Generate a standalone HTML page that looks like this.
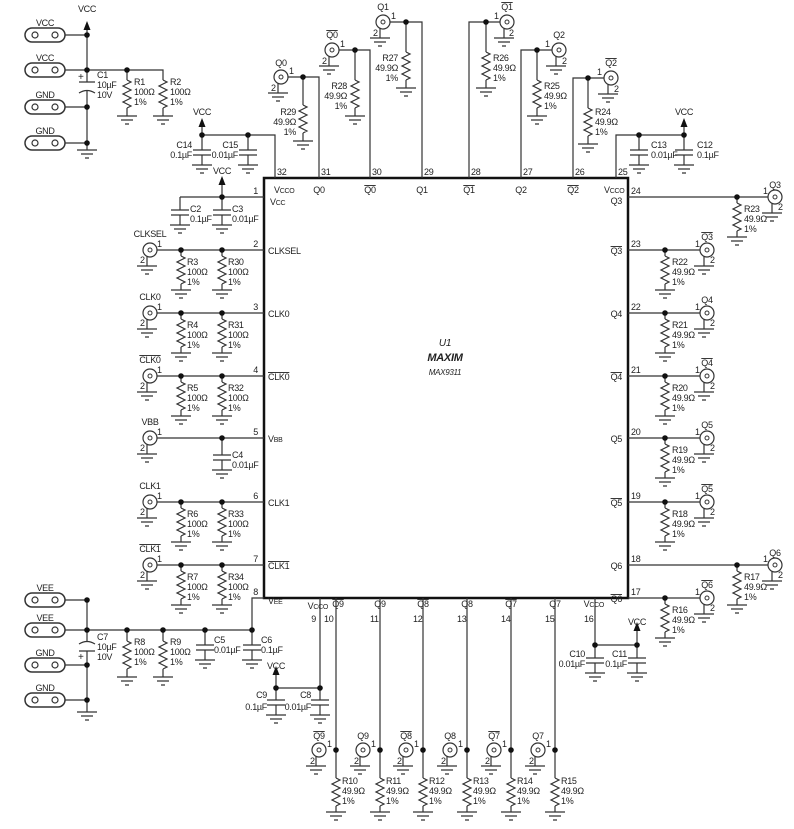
<!DOCTYPE html>
<html><head><meta charset="utf-8"><style>
html,body{margin:0;padding:0;background:#fff}
svg{display:block}
text{font-family:"Liberation Sans",sans-serif;font-size:9px;fill:#222;letter-spacing:-0.3px}
.w{fill:none;stroke:#333;stroke-width:1.2}
.ov{text-decoration:overline}
.m{text-anchor:middle}.e{text-anchor:end}
</style></head><body>
<svg width="794" height="829" viewBox="0 0 794 829" xmlns="http://www.w3.org/2000/svg">
<defs>
<path id="z" class="w" d="M0 0 l4 2 -8 4 8 4 -8 4 8 4 -8 4 8 4 -4 2"/>
<path id="g" class="w" d="M-10 0 h20 M-6 4 h12 M-2 8 h4"/>
<path id="c" class="w" d="M-9 0 h18 M-9 5 h18"/>
<circle id="d" r="2.8" fill="#111"/>
<g id="x"><circle r="7" fill="#fff" stroke="#333" stroke-width="1.2"/><circle r="2" fill="none" stroke="#333"/><path class="w" d="M-3 6.5 V16"/><use href="#g" x="-3" y="16"/></g>
<g id="a"><polygon points="0,-9 -3.5,0 3.5,0" fill="#111"/></g>
<g id="t"><rect x="-20" y="-7" width="40" height="14" rx="7" fill="#fff" stroke="#333" stroke-width="1.5"/><circle cx="-10" r="3" fill="none" stroke="#333" stroke-width="1.2"/><circle cx="10" r="3" fill="none" stroke="#333" stroke-width="1.2"/></g>
</defs>

<!-- IC -->
<rect x="264" y="178" width="364" height="420" fill="none" stroke="#111" stroke-width="2.5"/>
<text x="445" y="346" class="m" style="font-style:italic;font-size:10px">U1</text>
<text x="445" y="361" class="m" style="font-style:italic;font-weight:bold;font-size:11px">MAXIM</text>
<text x="445" y="375" class="m" style="font-style:italic;font-size:8px">MAX9311</text>

<!-- top-left power -->
<use href="#t" x="45" y="35"/><use href="#t" x="45" y="70"/><use href="#t" x="45" y="107"/><use href="#t" x="45" y="143"/>
<text x="45" y="26" class="m">VCC</text><text x="45" y="61" class="m">VCC</text><text x="45" y="98" class="m">GND</text><text x="45" y="134" class="m">GND</text>
<path class="w" d="M65 35 H87 M65 70 H87 M65 107 H87 M65 143 H87 M87 30 V82 M87 91 V150 M87 70 H163 V80 M127 70 V80 M127 108 V116 M163 108 V116"/>
<path class="w" d="M79 82 h16 M79 93 q8 -5 16 0"/>
<text x="78" y="80" style="font-size:10px">+</text>
<use href="#a" x="87" y="30"/><text x="87" y="12" class="m">VCC</text>
<use href="#d" x="87" y="35"/><use href="#d" x="87" y="70"/><use href="#d" x="87" y="107"/><use href="#d" x="87" y="143"/><use href="#d" x="127" y="70"/>
<use href="#g" x="87" y="150"/>
<text x="97" y="78">C1</text><text x="97" y="88">10µF</text><text x="97" y="98">10V</text>
<use href="#z" x="127" y="80"/><use href="#g" x="127" y="116"/><use href="#z" x="163" y="80"/><use href="#g" x="163" y="116"/>
<text x="134" y="85">R1</text><text x="134" y="95">100Ω</text><text x="134" y="105">1%</text>
<text x="170" y="85">R2</text><text x="170" y="95">100Ω</text><text x="170" y="105">1%</text>

<!-- C14 C15 -->
<path class="w" d="M202 125 V150 M248 135 V150 M202 135 H275 V178 M202 155 V165 M248 155 V165"/>
<use href="#a" x="202" y="127"/><text x="202" y="115" class="m">VCC</text>
<use href="#d" x="202" y="135"/><use href="#d" x="248" y="135"/>
<use href="#c" x="202" y="150"/><use href="#c" x="248" y="150"/><use href="#g" x="202" y="165"/><use href="#g" x="248" y="165"/>
<text x="192" y="148" class="e">C14</text><text x="192" y="158" class="e">0.1µF</text>
<text x="238" y="148" class="e">C15</text><text x="238" y="158" class="e">0.01µF</text>

<!-- top pins -->
<text x="277" y="175">32</text><text x="321" y="175">31</text><text x="372" y="175">30</text><text x="424" y="175">29</text><text x="471" y="175">28</text><text x="523" y="175">27</text><text x="575" y="175">26</text><text x="618" y="175">25</text>
<text x="274" y="193">V<tspan style="font-size:7px">CCO</tspan></text><text x="319" y="193" class="m">Q0</text><text x="370" y="193" class="m ov">Q0</text><text x="422" y="193" class="m">Q1</text><text x="469" y="193" class="m ov">Q1</text><text x="521" y="193" class="m">Q2</text><text x="573" y="193" class="m ov">Q2</text><text x="604" y="193">V<tspan style="font-size:7px">CCO</tspan></text>

<!-- Q0 -->
<path class="w" d="M288 77 H319 V178 M303 77 V105 M303 133 V141"/>
<use href="#x" x="281" y="77"/><use href="#d" x="303" y="77"/><use href="#z" x="303" y="105"/><use href="#g" x="303" y="141"/>
<text x="281" y="66" class="m">Q0</text><text x="289" y="74">1</text><text x="271" y="91">2</text>
<text x="296" y="115" class="e">R29</text><text x="296" y="125" class="e">49.9Ω</text><text x="296" y="135" class="e">1%</text>
<!-- Q0bar -->
<path class="w" d="M339 50 H370 V178 M355 50 V80 M355 108 V116"/>
<use href="#x" x="332" y="50"/><use href="#d" x="355" y="50"/><use href="#z" x="355" y="80"/><use href="#g" x="355" y="116"/>
<text x="332" y="38" class="m ov">Q0</text><text x="340" y="47">1</text><text x="322" y="64">2</text>
<text x="347" y="89" class="e">R28</text><text x="347" y="99" class="e">49.9Ω</text><text x="347" y="109" class="e">1%</text>
<!-- Q1 -->
<path class="w" d="M390 22 H422 V178 M406 22 V52 M406 80 V88"/>
<use href="#x" x="383" y="22"/><use href="#d" x="406" y="22"/><use href="#z" x="406" y="52"/><use href="#g" x="406" y="88"/>
<text x="383" y="10" class="m">Q1</text><text x="391" y="19">1</text><text x="373" y="36">2</text>
<text x="398" y="61" class="e">R27</text><text x="398" y="71" class="e">49.9Ω</text><text x="398" y="81" class="e">1%</text>
<!-- Q1bar -->
<path class="w" d="M500 22 H469 V178 M486 22 V52 M486 80 V88"/>
<use href="#x" x="507" y="22"/><use href="#d" x="486" y="22"/><use href="#z" x="486" y="52"/><use href="#g" x="486" y="88"/>
<text x="507" y="10" class="m ov">Q1</text><text x="494" y="19">1</text><text x="509" y="36">2</text>
<text x="493" y="61">R26</text><text x="493" y="71">49.9Ω</text><text x="493" y="81">1%</text>
<!-- Q2 -->
<path class="w" d="M552 50 H521 V178 M537 50 V80 M537 108 V116"/>
<use href="#x" x="559" y="50"/><use href="#d" x="537" y="50"/><use href="#z" x="537" y="80"/><use href="#g" x="537" y="116"/>
<text x="559" y="38" class="m">Q2</text><text x="545" y="47">1</text><text x="562" y="64">2</text>
<text x="544" y="89">R25</text><text x="544" y="99">49.9Ω</text><text x="544" y="109">1%</text>
<!-- Q2bar -->
<path class="w" d="M604 78 H573 V178 M588 78 V108 M588 136 V144"/>
<use href="#x" x="611" y="78"/><use href="#d" x="588" y="78"/><use href="#z" x="588" y="108"/><use href="#g" x="588" y="144"/>
<text x="611" y="66" class="m ov">Q2</text><text x="597" y="75">1</text><text x="614" y="92">2</text>
<text x="595" y="115">R24</text><text x="595" y="125">49.9Ω</text><text x="595" y="135">1%</text>
<!-- C13 C12 -->
<path class="w" d="M616 178 V135 H684 M684 125 V150 M639 135 V150 M639 155 V165 M684 155 V165"/>
<use href="#a" x="684" y="127"/><text x="684" y="115" class="m">VCC</text>
<use href="#d" x="639" y="135"/><use href="#d" x="684" y="135"/>
<use href="#c" x="639" y="150"/><use href="#c" x="684" y="150"/><use href="#g" x="639" y="165"/><use href="#g" x="684" y="165"/>
<text x="651" y="148">C13</text><text x="651" y="158">0.01µF</text><text x="697" y="148">C12</text><text x="697" y="158">0.1µF</text>

<!-- left pin 1 -->
<path class="w" d="M180 197 H264 M222 183 V197 M180 197 V210 M222 197 V210 M180 215 V225 M222 215 V225"/>
<use href="#a" x="222" y="185"/><text x="222" y="174" class="m">VCC</text>
<use href="#d" x="222" y="197"/><use href="#c" x="180" y="210"/><use href="#c" x="222" y="210"/><use href="#g" x="180" y="225"/><use href="#g" x="222" y="225"/>
<text x="190" y="212">C2</text><text x="190" y="222">0.1µF</text><text x="232" y="212">C3</text><text x="232" y="222">0.01µF</text>
<text x="258" y="194" class="e">1</text><text x="270" y="205">V<tspan style="font-size:7px">CC</tspan></text>

<!-- left rows -->
<g id="L1">
<path class="w" d="M157 250 H264 M181 250 V256 M222 250 V256 M181 284 V290 M222 284 V290"/>
<use href="#x" x="150" y="250"/><use href="#d" x="181" y="250"/><use href="#d" x="222" y="250"/>
<use href="#z" x="181" y="256"/><use href="#z" x="222" y="256"/><use href="#g" x="181" y="290"/><use href="#g" x="222" y="290"/>
</g>
<use href="#L1" y="63"/><use href="#L1" y="126"/><use href="#L1" y="252"/><use href="#L1" y="315"/>
<text x="150" y="237" class="m">CLKSEL</text><text x="150" y="300" class="m">CLK0</text><text x="150" y="363" class="m ov">CLK0</text><text x="150" y="489" class="m">CLK1</text><text x="150" y="552" class="m ov">CLK1</text>
<text x="157" y="247">1</text><text x="140" y="263">2</text><text x="157" y="310">1</text><text x="140" y="326">2</text><text x="157" y="373">1</text><text x="140" y="389">2</text><text x="157" y="499">1</text><text x="140" y="515">2</text><text x="157" y="562">1</text><text x="140" y="578">2</text>
<text x="187" y="265">R3</text><text x="187" y="275">100Ω</text><text x="187" y="285">1%</text>
<text x="228" y="265">R30</text><text x="228" y="275">100Ω</text><text x="228" y="285">1%</text>
<text x="187" y="328">R4</text><text x="187" y="338">100Ω</text><text x="187" y="348">1%</text>
<text x="228" y="328">R31</text><text x="228" y="338">100Ω</text><text x="228" y="348">1%</text>
<text x="187" y="391">R5</text><text x="187" y="401">100Ω</text><text x="187" y="411">1%</text>
<text x="228" y="391">R32</text><text x="228" y="401">100Ω</text><text x="228" y="411">1%</text>
<text x="187" y="517">R6</text><text x="187" y="527">100Ω</text><text x="187" y="537">1%</text>
<text x="228" y="517">R33</text><text x="228" y="527">100Ω</text><text x="228" y="537">1%</text>
<text x="187" y="580">R7</text><text x="187" y="590">100Ω</text><text x="187" y="600">1%</text>
<text x="228" y="580">R34</text><text x="228" y="590">100Ω</text><text x="228" y="600">1%</text>
<!-- VBB -->
<path class="w" d="M157 438 H264 M222 438 V455 M222 460 V470"/>
<use href="#x" x="150" y="438"/><use href="#d" x="222" y="438"/><use href="#c" x="222" y="455"/><use href="#g" x="222" y="470"/>
<text x="150" y="425" class="m">VBB</text><text x="157" y="435">1</text><text x="140" y="451">2</text>
<text x="232" y="458">C4</text><text x="232" y="468">0.01µF</text>
<!-- left pin numbers/names -->
<text x="258" y="247" class="e">2</text><text x="258" y="310" class="e">3</text><text x="258" y="373" class="e">4</text><text x="258" y="435" class="e">5</text><text x="258" y="499" class="e">6</text><text x="258" y="562" class="e">7</text><text x="258" y="595" class="e">8</text>
<text x="268" y="254">CLKSEL</text><text x="268" y="317">CLK0</text><text x="268" y="380" class="ov">CLK0</text><text x="268" y="442">V<tspan style="font-size:7px">BB</tspan></text><text x="268" y="506">CLK1</text><text x="268" y="569" class="ov">CLK1</text><text x="268" y="604">V<tspan style="font-size:7px">EE</tspan></text>

<!-- right pins -->
<text x="631" y="194">24</text><text x="631" y="247">23</text><text x="631" y="310">22</text><text x="631" y="373">21</text><text x="631" y="435">20</text><text x="631" y="499">19</text><text x="631" y="562">18</text><text x="631" y="595">17</text>
<text x="622" y="204" class="e">Q3</text><text x="622" y="254" class="e ov">Q3</text><text x="622" y="317" class="e">Q4</text><text x="622" y="380" class="e ov">Q4</text><text x="622" y="442" class="e">Q5</text><text x="622" y="506" class="e ov">Q5</text><text x="622" y="569" class="e">Q6</text><text x="622" y="602" class="e ov">Q6</text>
<g id="RR">
<path class="w" d="M628 250 H700 M665 250 V256 M665 284 V290"/>
<use href="#x" x="707" y="250"/><use href="#d" x="665" y="250"/><use href="#z" x="665" y="256"/><use href="#g" x="665" y="290"/>
</g>
<use href="#RR" y="63"/><use href="#RR" y="126"/><use href="#RR" y="188"/><use href="#RR" y="252"/><use href="#RR" y="348"/>
<text x="707" y="240" class="m ov">Q3</text><text x="707" y="303" class="m">Q4</text><text x="707" y="366" class="m ov">Q4</text><text x="707" y="428" class="m">Q5</text><text x="707" y="492" class="m ov">Q5</text><text x="707" y="588" class="m ov">Q6</text>
<text x="695" y="247">1</text><text x="710" y="263">2</text><text x="695" y="310">1</text><text x="710" y="326">2</text><text x="695" y="373">1</text><text x="710" y="389">2</text><text x="695" y="435">1</text><text x="710" y="451">2</text><text x="695" y="499">1</text><text x="710" y="515">2</text><text x="695" y="595">1</text><text x="710" y="611">2</text>
<text x="672" y="265">R22</text><text x="672" y="275">49.9Ω</text><text x="672" y="285">1%</text>
<text x="672" y="328">R21</text><text x="672" y="338">49.9Ω</text><text x="672" y="348">1%</text>
<text x="672" y="391">R20</text><text x="672" y="401">49.9Ω</text><text x="672" y="411">1%</text>
<text x="672" y="453">R19</text><text x="672" y="463">49.9Ω</text><text x="672" y="473">1%</text>
<text x="672" y="517">R18</text><text x="672" y="527">49.9Ω</text><text x="672" y="537">1%</text>
<text x="672" y="613">R16</text><text x="672" y="623">49.9Ω</text><text x="672" y="633">1%</text>
<g id="RF">
<path class="w" d="M628 197 H768 M737 197 V203 M737 231 V237"/>
<use href="#x" x="775" y="197"/><use href="#d" x="737" y="197"/><use href="#z" x="737" y="203"/><use href="#g" x="737" y="237"/>
</g>
<use href="#RF" y="368"/>
<text x="775" y="188" class="m">Q3</text><text x="763" y="194">1</text><text x="778" y="210">2</text>
<text x="775" y="556" class="m">Q6</text><text x="763" y="562">1</text><text x="778" y="578">2</text>
<text x="744" y="212">R23</text><text x="744" y="222">49.9Ω</text><text x="744" y="232">1%</text>
<text x="744" y="580">R17</text><text x="744" y="590">49.9Ω</text><text x="744" y="600">1%</text>

<!-- bottom-left power -->
<use href="#t" x="45" y="600"/><use href="#t" x="45" y="630"/><use href="#t" x="45" y="665"/><use href="#t" x="45" y="700"/>
<text x="45" y="591" class="m">VEE</text><text x="45" y="621" class="m">VEE</text><text x="45" y="656" class="m">GND</text><text x="45" y="691" class="m">GND</text>
<path class="w" d="M65 600 H87 M65 630 H87 M65 665 H87 M65 700 H87 M87 598 V641 M87 651 V712 M87 630 H252 V598 H264 M127 630 V641 M127 669 V677 M163 630 V641 M163 669 V677 M205 630 V645 M205 650 V660 M252 630 V645 M252 650 V660"/>
<path class="w" d="M79 644 q8 -5 16 0 M79 651 h16"/><text x="78" y="660" style="font-size:10px">+</text>
<use href="#d" x="87" y="600"/><use href="#d" x="87" y="630"/><use href="#d" x="87" y="665"/><use href="#d" x="87" y="700"/><use href="#d" x="127" y="630"/><use href="#d" x="163" y="630"/><use href="#d" x="205" y="630"/><use href="#d" x="252" y="630"/>
<use href="#g" x="87" y="712"/>
<text x="97" y="640">C7</text><text x="97" y="650">10µF</text><text x="97" y="660">10V</text>
<use href="#z" x="127" y="641"/><use href="#g" x="127" y="677"/><use href="#z" x="163" y="641"/><use href="#g" x="163" y="677"/>
<text x="134" y="645">R8</text><text x="134" y="655">100Ω</text><text x="134" y="665">1%</text>
<text x="170" y="645">R9</text><text x="170" y="655">100Ω</text><text x="170" y="665">1%</text>
<use href="#c" x="205" y="645"/><use href="#c" x="252" y="645"/><use href="#g" x="205" y="660"/><use href="#g" x="252" y="660"/>
<text x="214" y="643">C5</text><text x="214" y="653">0.01µF</text><text x="261" y="643">C6</text><text x="261" y="653">0.1µF</text>

<!-- bottom -->
<text x="316" y="622" class="e">9</text><text x="324" y="622">10</text><text x="370" y="622">11</text><text x="413" y="622">12</text><text x="457" y="622">13</text><text x="501" y="622">14</text><text x="545" y="622">15</text><text x="584" y="622">16</text>
<text x="328" y="609" class="e">V<tspan style="font-size:7px">CCO</tspan></text><text x="338" y="607" class="m ov">Q9</text><text x="380" y="607" class="m">Q9</text><text x="423" y="607" class="m ov">Q8</text><text x="467" y="607" class="m">Q8</text><text x="511" y="607" class="m ov">Q7</text><text x="555" y="607" class="m">Q7</text><text x="604" y="607" class="e">V<tspan style="font-size:7px">CCO</tspan></text>
<path class="w" d="M320 598 V700 M320 688 H276 V672 M276 688 V700 M276 705 V715 M320 705 V715"/>
<use href="#a" x="276" y="675"/><text x="276" y="669" class="m">VCC</text>
<use href="#d" x="276" y="688"/><use href="#d" x="320" y="688"/><use href="#c" x="276" y="700"/><use href="#c" x="320" y="700"/><use href="#g" x="276" y="715"/><use href="#g" x="320" y="715"/>
<text x="267" y="698" class="e">C9</text><text x="267" y="710" class="e">0.1µF</text><text x="311" y="698" class="e">C8</text><text x="311" y="710" class="e">0.01µF</text>
<g id="B">
<path class="w" d="M336 598 V778 M336 806 V812"/>
<use href="#x" x="319" y="750"/><use href="#d" x="336" y="750"/><use href="#z" x="336" y="778"/><use href="#g" x="336" y="812"/>
</g>
<use href="#B" x="44"/><use href="#B" x="87"/><use href="#B" x="131"/><use href="#B" x="175"/><use href="#B" x="219"/>
<text x="319" y="739" class="m ov">Q9</text><text x="363" y="739" class="m">Q9</text><text x="406" y="739" class="m ov">Q8</text><text x="450" y="739" class="m">Q8</text><text x="494" y="739" class="m ov">Q7</text><text x="538" y="739" class="m">Q7</text>
<g><text x="327" y="747">1</text><text x="310" y="764">2</text><text x="371" y="747">1</text><text x="354" y="764">2</text><text x="414" y="747">1</text><text x="397" y="764">2</text><text x="458" y="747">1</text><text x="441" y="764">2</text><text x="502" y="747">1</text><text x="485" y="764">2</text><text x="546" y="747">1</text><text x="529" y="764">2</text></g>
<text x="342" y="784">R10</text><text x="342" y="794">49.9Ω</text><text x="342" y="804">1%</text>
<text x="386" y="784">R11</text><text x="386" y="794">49.9Ω</text><text x="386" y="804">1%</text>
<text x="429" y="784">R12</text><text x="429" y="794">49.9Ω</text><text x="429" y="804">1%</text>
<text x="473" y="784">R13</text><text x="473" y="794">49.9Ω</text><text x="473" y="804">1%</text>
<text x="517" y="784">R14</text><text x="517" y="794">49.9Ω</text><text x="517" y="804">1%</text>
<text x="561" y="784">R15</text><text x="561" y="794">49.9Ω</text><text x="561" y="804">1%</text>
<!-- pin 16 caps -->
<path class="w" d="M595 598 V658 M595 645 H637 V628 M637 645 V658 M595 663 V673 M637 663 V673"/>
<use href="#a" x="637" y="631"/><text x="637" y="625" class="m">VCC</text>
<use href="#d" x="595" y="645"/><use href="#d" x="637" y="645"/><use href="#c" x="595" y="658"/><use href="#c" x="637" y="658"/><use href="#g" x="595" y="673"/><use href="#g" x="637" y="673"/>
<text x="585" y="657" class="e">C10</text><text x="585" y="667" class="e">0.01µF</text><text x="627" y="657" class="e">C11</text><text x="627" y="667" class="e">0.1µF</text>
</svg>
</body></html>
